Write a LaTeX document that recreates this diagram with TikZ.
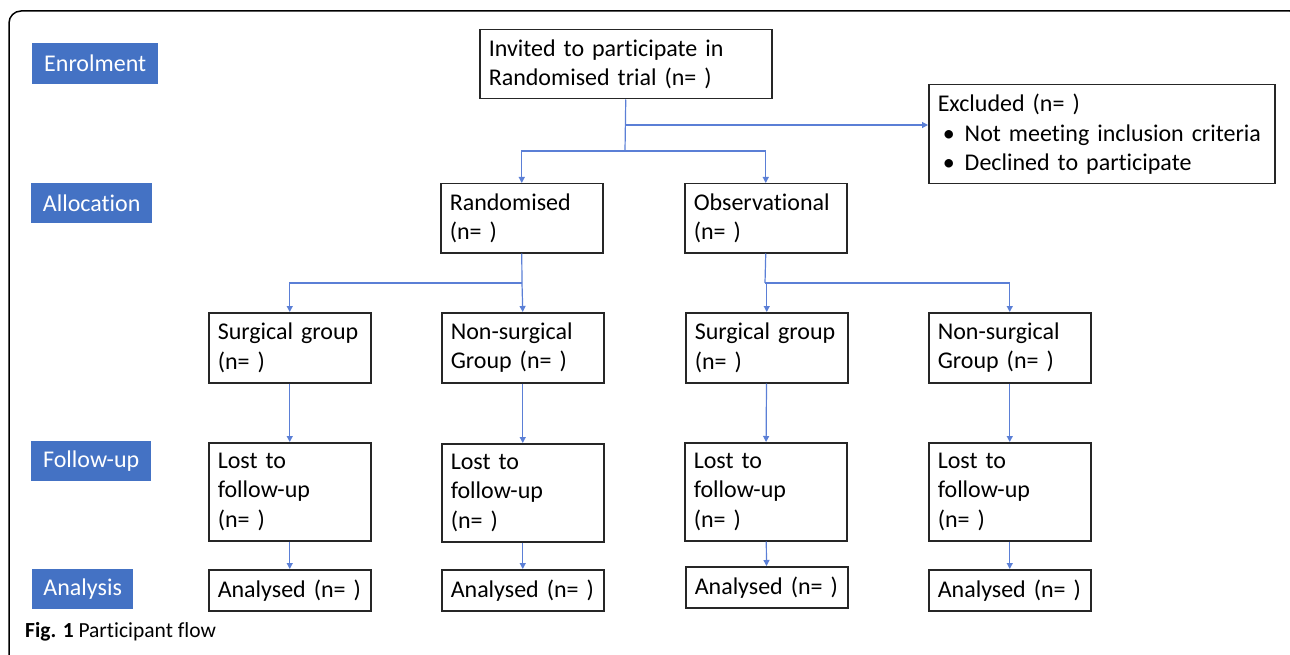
\documentclass[tikz,border=0pt]{standalone}
\usepackage{fontspec}
\setmainfont{Carlito}[Ligatures=NoCommon]
\usetikzlibrary{arrows.meta}
\definecolor{stageblue}{HTML}{4472C4}
\definecolor{linkblue}{HTML}{5B7FD6}
\begin{document}
\begin{tikzpicture}[x=1pt,y=-1pt,
  >={Triangle[length=6pt,width=6pt]},
  box/.style={draw=black!85,line width=1.5pt,anchor=north west,align=left,
    inner xsep=9pt,inner ysep=0pt,font=\fontsize{24}{29.5}\selectfont},
  smallbox/.style={box,minimum width=162,text width=144pt},
  stage/.style={fill=stageblue,text=white,anchor=north west,inner sep=0pt,
    font=\fontsize{24}{29.5}\selectfont},
  link/.style={draw=linkblue,line width=1.2pt}]
\useasboundingbox (0,0) rectangle (1290,655);
\clip (0,0) rectangle (1290,655);
\draw[line width=1.5pt,rounded corners=12pt] (9,670) -- (9,11) -- (1302,11) -- (1302,670);

% stages
\node[stage,minimum width=126,minimum height=41] (enrol) at (32,43) {Enrolment};
\node[stage,minimum width=121,minimum height=40] (alloc) at (31,183) {Allocation};
\node[stage,minimum width=120,minimum height=40] (follow) at (31,441) {Follow-up};
\node[stage,minimum width=101,minimum height=40] (analysis) at (32,569) {Analysis};

% enrolment
\node[box,minimum width=292,minimum height=69,text width=274pt] (inv) at (479,29)
  {Invited to participate in\\Randomised trial (n=~)};
\node[box,minimum width=346,minimum height=99,text width=328pt] (excl) at (928,84)
  {Excluded (n=~)\\
   \hspace*{5pt}\makebox[22pt][l]{•}Not meeting inclusion criteria\\
   \hspace*{5pt}\makebox[22pt][l]{•}Declined to participate};

% allocation
\node[smallbox,minimum height=69] (rand) at (440,183) {Randomised\\(n=~)};
\node[smallbox,minimum height=69] (obs) at (684,183) {Observational\\(n=~)};

\node[smallbox,minimum height=70] (sg1) at (208,312) {Surgical group\\(n=~)};
\node[smallbox,minimum height=70] (ns1) at (441,312) {Non-surgical\\Group (n=~)};
\node[smallbox,minimum height=70] (sg2) at (685,312) {Surgical group\\(n=~)};
\node[smallbox,minimum height=70] (ns2) at (928,312) {Non-surgical\\Group (n=~)};

% follow-up
\node[smallbox,minimum height=98] (lost1) at (208,442) {Lost to\\follow-up\\(n=~)};
\node[smallbox,minimum height=98] (lost2) at (441,443) {Lost to\\follow-up\\(n=~)};
\node[smallbox,minimum height=98] (lost3) at (684,442) {Lost to\\follow-up\\(n=~)};
\node[smallbox,minimum height=98] (lost4) at (928,442) {Lost to\\follow-up\\(n=~)};

% analysis
\node[smallbox,minimum height=41] (an1) at (208,569) {Analysed (n=~)};
\node[smallbox,minimum height=41] (an2) at (441,569) {Analysed (n=~)};
\node[smallbox,minimum height=41] (an3) at (685,566) {Analysed (n=~)};
\node[smallbox,minimum height=41] (an4) at (928,569) {Analysed (n=~)};

\node[anchor=west,inner sep=0pt,font=\fontsize{21.5}{24}\selectfont] (cap) at (25,632)
  {\textbf{Fig. 1} Participant flow};

% connectors
\coordinate (exsplit) at (625,125);
\coordinate (split) at (625,151);
\coordinate (rsplit) at (522,283);
\coordinate (osplit) at (765,283);
\draw[link] (inv.south) -- (split);
\draw[link,->] (exsplit) -- (excl.west |- exsplit);
\draw[link,->] (split) -| (rand.north);
\draw[link,->] (split) -| (obs.north);
\draw[link] (rand.south) -- (rsplit);
\draw[link,->] (rsplit) -| (sg1.north);
\draw[link,->] (rsplit) -- (ns1.north);
\draw[link] (obs.south) -- (osplit);
\draw[link,->] (osplit) -| (sg2.north);
\draw[link,->] (osplit) -| (ns2.north);
\draw[link,->] (sg1) -- (lost1);
\draw[link,->] (ns1) -- (lost2);
\draw[link,->] (sg2) -- (lost3);
\draw[link,->] (ns2) -- (lost4);
\draw[link,->] (lost1) -- (an1);
\draw[link,->] (lost2) -- (an2);
\draw[link,->] (lost3) -- (an3);
\draw[link,->] (lost4) -- (an4);
\end{tikzpicture}
\end{document}
